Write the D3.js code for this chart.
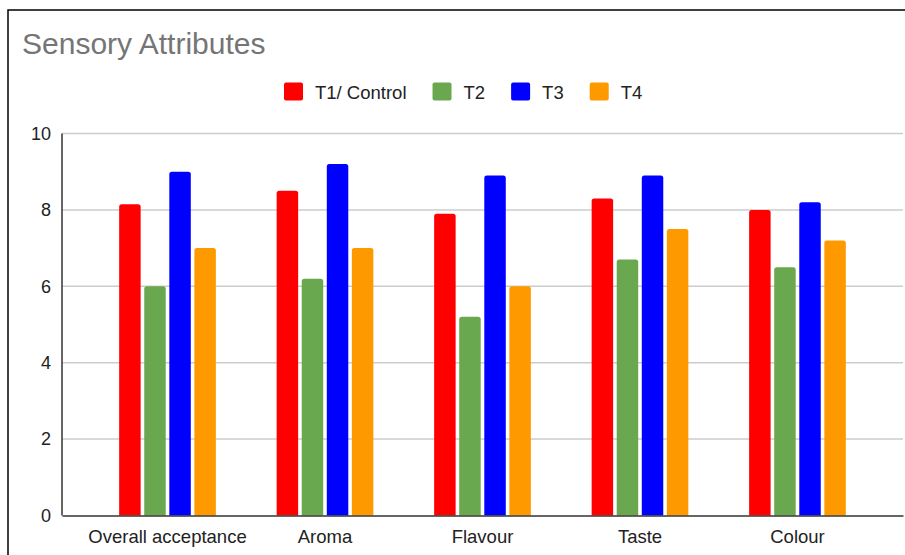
<!DOCTYPE html>
<html>
<head>
<meta charset="utf-8">
<script src="https://cdn.jsdelivr.net/npm/d3@7"></script>
<style>
  html, body { margin: 0; padding: 0; background: #fff; }
  svg { display: block; font-family: Arial, "Liberation Sans", sans-serif; }
</style>
</head>
<body>
<svg id="chart" width="905" height="555"></svg>
<script>
// Sensory scores per attribute for each treatment
const categories = ["Overall acceptance", "Aroma", "Flavour", "Taste", "Colour"];
const seriesNames = ["T1/ Control", "T2", "T3", "T4"];
const seriesColors = ["#ff0000", "#6aa84f", "#0000ff", "#ff9900"];
const t1Values = [8.15, 8.5, 7.9, 8.3, 8.0];
const t2Values = [6.0, 6.2, 5.2, 6.7, 6.5];
const t3Values = [9.0, 9.2, 8.9, 8.9, 8.2];
const t4Values = [7.0, 7.0, 6.0, 7.5, 7.2];
const yTicks = [0, 2, 4, 6, 8, 10];

const seriesValues = [t1Values, t2Values, t3Values, t4Values];

const svg = d3.select("#chart");
const W = 905, H = 555;
const plot = { left: 62, right: 903, top: 133.5, bottom: 515.5 };

// Outer frame (top and left edges visible)
svg.append("rect")
  .attr("x", 8).attr("y", 10)
  .attr("width", W + 20).attr("height", H + 20)
  .attr("fill", "#fff")
  .attr("stroke", "#000").attr("stroke-width", 1.5);

// Title
svg.append("text")
  .attr("x", 22).attr("y", 53.5)
  .attr("font-size", 30)
  .attr("fill", "#757575")
  .text("Sensory Attributes");

// Scales
const x0 = d3.scaleBand()
  .domain(categories)
  .range([plot.left, plot.right])
  .paddingInner(0.386)
  .paddingOuter(0.363);

const x1 = d3.scaleBand()
  .domain(seriesNames)
  .range([0, x0.bandwidth()])
  .paddingInner(0.143)
  .paddingOuter(0);

const y = d3.scaleLinear()
  .domain([0, 10])
  .range([plot.bottom, plot.top]);

// Gridlines
svg.append("g")
  .selectAll("line")
  .data(yTicks.filter(d => d !== 0))
  .join("line")
  .attr("x1", plot.left).attr("x2", plot.right)
  .attr("y1", d => y(d)).attr("y2", d => y(d))
  .attr("stroke", "#cccccc").attr("stroke-width", 1.5);

// Y axis tick labels
const yAxis = d3.axisLeft(y).tickValues(yTicks).tickSize(0).tickPadding(11).tickFormat(d3.format("d"));
const gy = svg.append("g").attr("transform", `translate(${plot.left},0)`).call(yAxis);
gy.select(".domain").remove();
gy.selectAll("text")
  .attr("font-size", 18)
  .attr("font-family", "Arial, 'Liberation Sans', sans-serif")
  .attr("fill", "#222");

// Bars with rounded top corners
function barPath(x, yTop, w, yBase, r) {
  r = Math.min(r, w / 2, (yBase - yTop));
  return `M${x},${yBase}V${yTop + r}Q${x},${yTop} ${x + r},${yTop}` +
         `H${x + w - r}Q${x + w},${yTop} ${x + w},${yTop + r}V${yBase}Z`;
}

const groups = svg.append("g")
  .selectAll("g")
  .data(categories)
  .join("g")
  .attr("transform", d => `translate(${x0(d)},0)`);

groups.selectAll("path")
  .data((c, ci) => seriesNames.map((s, si) => ({ s, si, v: seriesValues[si][ci] })))
  .join("path")
  .attr("d", d => barPath(x1(d.s), y(d.v), x1.bandwidth(), y(0), 2.5))
  .attr("fill", d => seriesColors[d.si]);

// Axis lines
svg.append("line")
  .attr("x1", plot.left).attr("x2", plot.left)
  .attr("y1", plot.top).attr("y2", plot.bottom)
  .attr("stroke", "#333").attr("stroke-width", 1.5);

const xAxis = d3.axisBottom(x0).tickSize(0).tickPadding(14);
const gx = svg.append("g").attr("transform", `translate(0,${plot.bottom})`).call(xAxis);
gx.select(".domain").attr("stroke", "#333").attr("stroke-width", 1.5);
gx.selectAll("text")
  .attr("font-size", 18.5)
  .attr("font-family", "Arial, 'Liberation Sans', sans-serif")
  .attr("fill", "#222");

// Legend
const legend = svg.append("g").attr("transform", "translate(284,0)");
let lx = 0;
seriesNames.forEach((name, i) => {
  legend.append("rect")
    .attr("x", lx).attr("y", 82.5)
    .attr("width", 19).attr("height", 18)
    .attr("rx", 2)
    .attr("fill", seriesColors[i]);
  const t = legend.append("text")
    .attr("x", lx + 31).attr("y", 99)
    .attr("font-size", 18.5)
    .attr("fill", "#222")
    .text(name);
  lx += 31 + t.node().getComputedTextLength() + 26;
});
</script>
</body>
</html>
